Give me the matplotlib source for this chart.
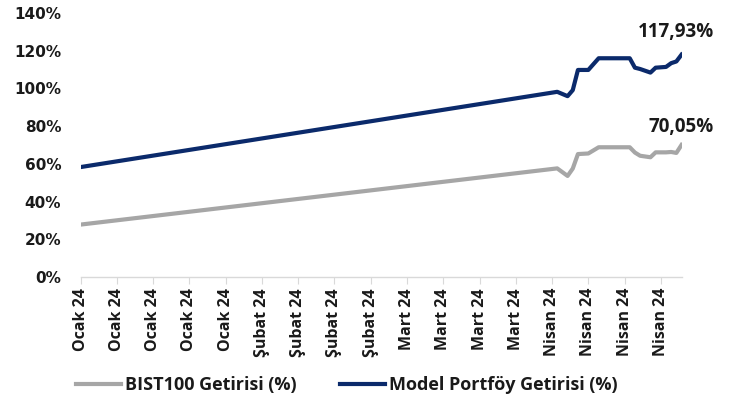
import matplotlib
matplotlib.use("Agg")
from matplotlib import pyplot as plt
import matplotlib.transforms as mtrans
import numpy as np
import pandas as pd

plt.rcParams['font.family'] = ['Open Sans', 'DejaVu Sans']

# veriler
dates = ['2024-01-01', '2024-04-02', '2024-04-04', '2024-04-05', '2024-04-06',
         '2024-04-08', '2024-04-10', '2024-04-16', '2024-04-17', '2024-04-18',
         '2024-04-20', '2024-04-21', '2024-04-23', '2024-04-24', '2024-04-25',
         '2024-04-26']
bist100 = [27.8, 57.6, 53.6, 57.5, 65.2, 65.5, 68.8, 68.8, 66.0, 64.3,
           63.5, 66.1, 66.1, 66.3, 65.8, 70.05]
model = [58.3, 98.2, 95.9, 99.1, 109.8, 109.8, 116.0, 116.0, 111.0, 110.3,
         108.4, 111.0, 111.4, 113.4, 114.3, 117.93]
tick_dates = pd.date_range('2024-01-01', '2024-04-22', freq='7D')
months_tr = {1: 'Ocak', 2: 'Şubat', 3: 'Mart', 4: 'Nisan'}
tick_labels = [f"{months_tr[d.month]} {d.strftime('%y')}" for d in tick_dates]

x = pd.to_datetime(dates)

fig = plt.figure(figsize=(7.4, 4), dpi=100)
ax = fig.add_axes([0.109, 0.3075, 0.812, 0.66])

gray = '#A6A6A6'
navy = '#0B2A6B'
ax.plot(x, bist100, color=gray, lw=3.0, label='BIST100 Getirisi (%)', solid_joinstyle='round')
ax.plot(x, model, color=navy, lw=3.0, label='Model Portföy Getirisi (%)', solid_joinstyle='round')

# son değer etiketleri
for vals, dx, dy in ((model, -4, 9), (bist100, 0, 6)):
    ax.annotate(f"{vals[-1]:.2f}%".replace('.', ','), (x[-1], vals[-1]),
                xytext=(dx, dy), textcoords='offset points', ha='center', va='bottom',
                fontsize=13.5, fontweight='bold', color='#1a1a1a')

ax.set_xlim(pd.Timestamp('2024-01-01'), pd.Timestamp('2024-04-26'))
ax.set_ylim(0, 140)
ax.set_yticks(np.arange(0, 141, 20))
ax.set_yticklabels([f"{v}%" for v in range(0, 141, 20)], fontsize=11,
                   fontweight='bold', family='DejaVu Sans', color='#1a1a1a')

ax.set_xticks(tick_dates)
ax.set_xticklabels(tick_labels, rotation=90, fontsize=11.5, fontweight='bold',
                   ha='center', va='top', color='#1a1a1a')
offset = mtrans.ScaledTranslation(5 / 100, 0, fig.dpi_scale_trans)
for lab in ax.get_xticklabels():
    lab.set_transform(lab.get_transform() + offset)

for s in ('top', 'right', 'left'):
    ax.spines[s].set_visible(False)
ax.spines['bottom'].set_color('#D9D9D9')
ax.spines['bottom'].set_linewidth(1.0)
ax.tick_params(axis='x', direction='out', length=5, color='#D9D9D9', pad=3)
ax.tick_params(axis='y', length=0, pad=14)

leg = fig.legend(loc='center left', bbox_to_anchor=(0.103, 0.0375), ncol=2, frameon=False,
                 prop={'weight': 'bold', 'size': 13}, handlelength=2.5, borderpad=0,
                 borderaxespad=0, columnspacing=2.4, handletextpad=0.2)
for t in leg.get_texts():
    t.set_color('#1a1a1a')

fig.savefig('out.png', dpi=100)
